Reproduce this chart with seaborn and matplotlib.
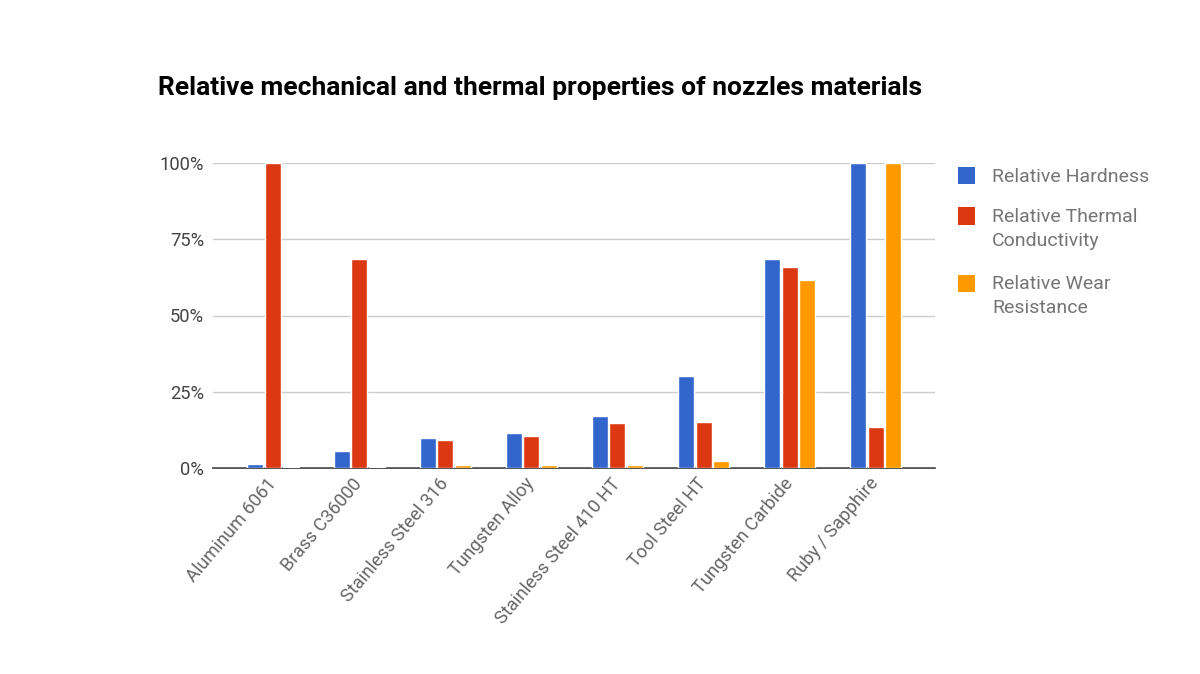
import matplotlib
matplotlib.use("Agg")
import matplotlib.pyplot as plt
import seaborn as sns
import pandas as pd
from matplotlib.ticker import FuncFormatter
from matplotlib.patches import Rectangle

categories = ["Aluminum 6061", "Brass C36000", "Stainless Steel 316", "Tungsten Alloy",
              "Stainless Steel 410 HT", "Tool Steel HT", "Tungsten Carbide", "Ruby / Sapphire"]
series_names = ["Relative Hardness", "Relative Thermal Conductivity", "Relative Wear Resistance"]
legend_labels = ["Relative Hardness", "Relative Thermal\nConductivity", "Relative Wear\nResistance"]
hardness = [0.012, 0.055, 0.098, 0.115, 0.172, 0.302, 0.686, 1.0]
thermal = [1.0, 0.685, 0.093, 0.104, 0.147, 0.151, 0.659, 0.135]
wear = [0.004, 0.004, 0.010, 0.010, 0.009, 0.022, 0.615, 1.0]
yticks = [0, 0.25, 0.5, 0.75, 1.0]
colors = ["#3366CC", "#DC3912", "#FF9900"]

rows = []
for s, vals in zip(series_names, [hardness, thermal, wear]):
    for c, v in zip(categories, vals):
        rows.append({"Material": c, "Series": s, "Value": v})
df = pd.DataFrame(rows)

sns.set_theme(style="white")
plt.rcParams["font.family"] = ["Roboto", "DejaVu Sans"]

W, H = 1200, 674
fig = plt.figure(figsize=(12, 6.74), dpi=100)
ax = fig.add_axes([213 / W, 1 - 468 / H, (935 - 213) / W, (468 - 163) / H])

sns.barplot(data=df, x="Material", y="Value", hue="Series", order=categories,
            hue_order=series_names, palette=colors, width=0.62, gap=0.1,
            saturation=1, ax=ax, legend=False)

ax.set_ylim(0, 1.0)
ax.set_xlim(-0.70, 7.69)
ax.set_yticks(yticks)
ax.yaxis.set_major_formatter(FuncFormatter(lambda v, p: f"{v*100:.0f}%"))
ax.grid(axis="y", color="#cccccc", linewidth=1)
ax.set_axisbelow(True)
for sp in ["top", "right", "left"]:
    ax.spines[sp].set_visible(False)
ax.spines["bottom"].set_color("#333333")
ax.spines["bottom"].set_linewidth(1.2)
ax.spines["bottom"].set_zorder(0.5)
ax.set_xlabel("")
ax.set_ylabel("")
ax.tick_params(axis="y", length=0, pad=6.5, labelsize=13.2, labelcolor="#444444")
ax.tick_params(axis="x", length=0, pad=9, labelsize=13.2, labelcolor="#666666")
for lbl in ax.get_xticklabels():
    lbl.set_rotation(50)
    lbl.set_ha("right")
    lbl.set_va("center")
    lbl.set_rotation_mode("anchor")

fig.text(158 / W, 1 - 88 / H, "Relative mechanical and thermal properties of nozzles materials",
         fontsize=19, fontweight="bold", color="#000000", va="center", ha="left")

# legend (square aligned with first text line, as in the reference)
legend_y = [176, 216, 283]
for c, lab, y in zip(colors, legend_labels, legend_y):
    fig.patches.append(Rectangle((958 / W, 1 - (y + 8.5) / H), 17 / W, 17 / H,
                                 transform=fig.transFigure, facecolor=c, edgecolor="none"))
    fig.text(992 / W, 1 - (y - 8) / H, lab, fontsize=14, color="#757575",
             va="top", ha="left", linespacing=1.45)

fig.savefig("out.png", dpi=100)
